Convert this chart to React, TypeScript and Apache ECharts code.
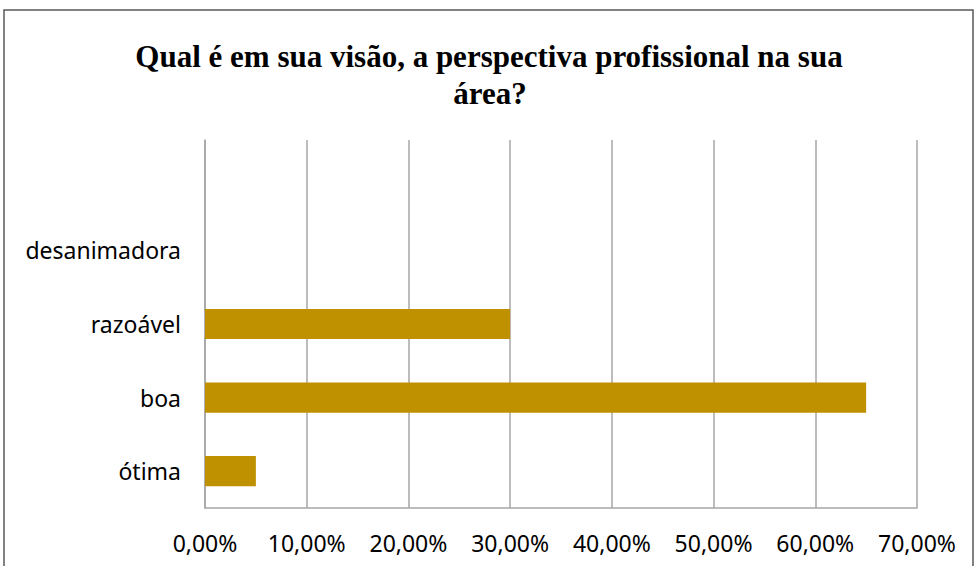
import React, { useEffect, useRef } from "react";
import * as echarts from "echarts";

const categories = ["ótima", "boa", "razoável", "desanimadora", ""];
const values = [0.05, 0.65, 0.3, 0, null];
const titleLines = ["Qual é em sua visão, a perspectiva profissional na sua", "área?"];

const fmt = (v: number) => (v * 100).toFixed(2).replace(".", ",") + "%";

export default function App() {
  const ref = useRef<HTMLDivElement>(null);
  useEffect(() => {
    if (!ref.current) return;
    const chart = echarts.init(ref.current, null, { renderer: "svg" });
    const titleStyle = {
      fontFamily: "'Liberation Serif', serif",
      fontWeight: "bold",
      fontSize: 31,
      fill: "#000000",
      align: "center",
      verticalAlign: "middle",
    };
    chart.setOption({
      animation: false,
      backgroundColor: "#ffffff",
      graphic: [
        {
          type: "rect",
          shape: { x: 4, y: 10, width: 969, height: 600 },
          style: { fill: "none", stroke: "#595959", lineWidth: 1.5 },
          silent: true,
        },
        {
          type: "text",
          x: 489,
          y: 56,
          style: { ...titleStyle, text: titleLines[0] },
          silent: true,
        },
        {
          type: "text",
          x: 490,
          y: 93,
          style: { ...titleStyle, text: titleLines[1] },
          silent: true,
        },
      ],
      grid: { left: 205, right: 61, top: 140, bottom: 58, containLabel: false },
      xAxis: {
        type: "value",
        min: 0,
        max: 0.7,
        interval: 0.1,
        axisLine: { show: true, lineStyle: { color: "#a6a6a6", width: 1.5 } },
        axisTick: { show: false },
        splitLine: { show: true, lineStyle: { color: "#a6a6a6", width: 1.5 } },
        axisLabel: {
          formatter: fmt,
          fontFamily: "'Noto Sans', sans-serif",
          fontSize: 23,
          color: "#000000",
          margin: 23,
        },
      },
      yAxis: {
        type: "category",
        data: categories,
        axisLine: { show: true, lineStyle: { color: "#a6a6a6", width: 1.5 } },
        axisTick: { show: false },
        splitLine: { show: false },
        axisLabel: {
          fontFamily: "'Noto Sans', sans-serif",
          fontSize: 23,
          color: "#000000",
          margin: 24,
        },
      },
      series: [
        {
          type: "bar",
          data: values,
          barWidth: "41%",
          itemStyle: { color: "#BF9000" },
        },
      ],
    });
    return () => chart.dispose();
  }, []);
  return (
    <div
      ref={ref}
      style={{ position: "fixed", left: 0, top: 0, width: 978, height: 566 }}
    />
  );
}
